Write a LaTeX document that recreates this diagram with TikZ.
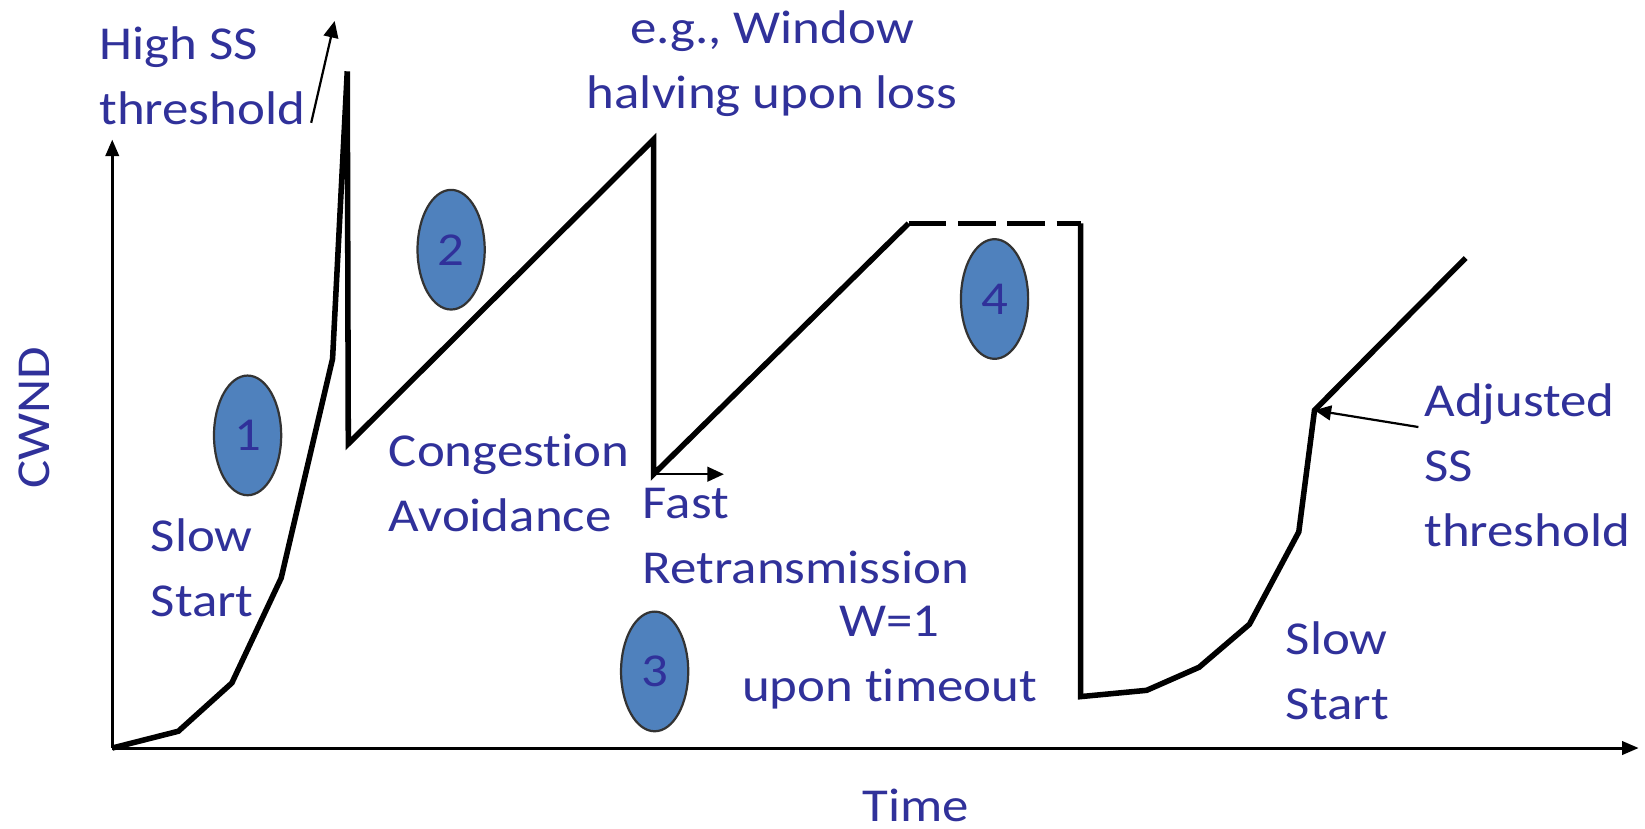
\documentclass[tikz,border=0pt]{standalone}
\usepackage{fontspec}
\setmainfont{Carlito}[FakeStretch=1.12,Ligatures=NoCommon]
\usetikzlibrary{arrows.meta,shapes.geometric}
\definecolor{lbl}{HTML}{30319A}
\definecolor{phasefill}{HTML}{4F81BD}

\begin{document}
\begin{tikzpicture}[
  x=0.01cm,y=-0.01cm,
  font=\fontsize{12.8}{17.6}\selectfont,
  txt/.style={inner sep=0pt,text=lbl,align=left},
  ctxt/.style={inner sep=0pt,text=lbl,align=center},
  phasemark/.style={ellipse,draw=black!80,line width=0.6pt,fill=phasefill,text=lbl,inner sep=0pt,minimum width=0.64cm,minimum height=1.14cm},
  axis/.style={-{Triangle[length=4.5pt,width=3.6pt]},line width=0.8pt},
  note/.style={-{Triangle[length=4.5pt,width=4pt]},line width=0.6pt},
  cwnd/.style={line width=1.5pt,line join=miter},
]
\useasboundingbox (0,0) rectangle (1568,790);
% axes
\coordinate (O) at (107,713);
\coordinate (ytop) at (107,133);
\coordinate (xend) at (1562,713);
\draw[axis] (O) -- (ytop);
\draw[axis] (O) -- (xend);
\node[txt,rotate=90,anchor=base] (ylab) at (47,398) {CWND};
\node[txt,anchor=base] (xlab) at (873,783) {Time};
% key points of the window curve
\coordinate (sspeak) at (331,68);
\coordinate (loss1) at (623,133);
\coordinate (frbot) at (623,452);
\coordinate (frtip) at (690,452);
\coordinate (plat1) at (866,213);
\coordinate (plat2) at (1030,213);
\coordinate (ssadj) at (1253,391);
% window curve
\draw[cwnd] (O) -- (170,697) -- (221,651) -- (268,551) -- (317,342) -- (sspeak)
  -- (332,423) -- (loss1) -- (frbot) -- (plat1);
\draw[cwnd,dash pattern=on 0.36cm off 0.11cm] (plat1) -- (plat2);
\draw[cwnd] (plat2) -- (1030,664) -- (1093,658) -- (1143,636) -- (1191,595)
  -- (1238,507) -- (ssadj) -- (1397,246);
% phases
\node[phasemark] (p1) at (236,415) {1};
\node[phasemark] (p2) at (430,238) {2};
\node[phasemark] (p3) at (624,640) {3};
\node[phasemark] (p4) at (948,285) {4};
% labels (base = last line)
\node[txt,anchor=base west] (highss) at (94,119) {High SS\\threshold};
\node[ctxt,anchor=base] (halve) at (736,103) {e.g., Window\\halving upon loss};
\node[txt,anchor=base west] (cavoid) at (370,507) {Congestion\\Avoidance};
\node[txt,anchor=base west] (ss1) at (143,588) {Slow\\Start};
\node[txt,anchor=base west] (fastre) at (612,556) {Fast\\Retransmission};
\node[ctxt,anchor=base] (timeout) at (848,669) {W=1\\upon timeout};
\node[txt,anchor=base west] (adj) at (1357,521) {Adjusted\\SS\\threshold};
\node[txt,anchor=base west] (ss2) at (1225,686) {Slow\\Start};
% pointers
\coordinate (hstip) at (319,20);
\draw[note] ([shift={(5,-3)}]highss.south east) -- (hstip);
\draw[note] (frbot) -- (frtip);
\draw[note] ([shift={(-5,-115)}]adj.south west) -- (ssadj);
\end{tikzpicture}
\end{document}
